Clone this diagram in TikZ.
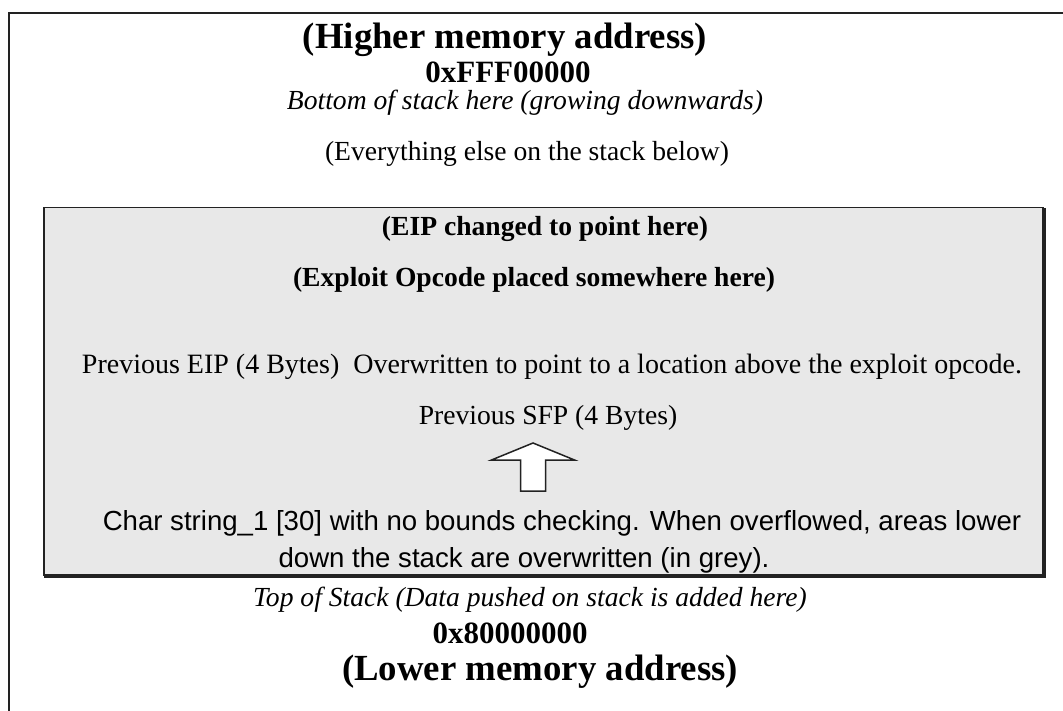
\documentclass[tikz,border=0pt]{standalone}
\usepackage{fontspec}
\setmainfont{Liberation Serif}
\newfontfamily\arialfont{Liberation Sans}
\definecolor{stackGrey}{HTML}{E8E8E8}
\definecolor{edge}{HTML}{222222}
\tikzset{
  plaintext/.style={inner sep=0pt, font=\fontsize{27.6}{33}\selectfont},
  boldtext/.style={inner sep=0pt, font=\fontsize{27.6}{33}\selectfont\bfseries},
  slanttext/.style={inner sep=0pt, font=\fontsize{27.6}{33}\selectfont\itshape},
  headtext/.style={inner sep=0pt, font=\fontsize{36.8}{42}\selectfont\bfseries},
  hextext/.style={inner sep=0pt, font=\fontsize{31}{37}\selectfont\bfseries},
  overbox/.style={
    rectangle, draw=edge, line width=1.5pt, fill=stackGrey, inner sep=0pt,
  },
  pusharrow/.style={
    draw=edge, fill=white, line width=1.5pt, line join=miter,
  },
}

\begin{document}
\begin{tikzpicture}[x=1pt,y=1pt]
\useasboundingbox (0,0) rectangle (1063,-711);

% page frame, only top and left edge
\coordinate (frameTR) at (1063,-13);
\coordinate (frameBL) at (9,-711);
\draw[edge, line width=2pt] (frameTR) -| (frameBL);

% overwritten part of the stack
\node[overbox, anchor=north west, minimum width=999pt, minimum height=367pt]
  (overflow) at (43,-207) {};
\draw[edge, line width=1.5pt]
  ([xshift=1.5pt,yshift=-1pt]overflow.north east)
  |- ([xshift=1pt,yshift=-1.5pt]overflow.south west);

\node[headtext] (higher) at (505,-40) {(Higher memory address)};
\node[hextext] (hiaddr) at (508,-72) {0xFFF00000};
\node[slanttext] (bottom) at (525,-103) {Bottom of stack here (growing downwards)};
\node[plaintext] (rest) at (527,-154) {(Everything else on the stack below)};

\node[boldtext] (eip) at (545,-229) {(EIP changed to point here)};
\node[boldtext] (opcode) at (534,-280) {(Exploit Opcode placed somewhere here)};
\node[font=\fontsize{28}{33}\selectfont, inner sep=0pt] (preveip) at (552,-367)
  {Previous EIP (4 Bytes)\ \ Overwritten to point to a location above the exploit opcode.};
\node[plaintext] (prevsfp) at (548,-418) {Previous SFP (4 Bytes)};

% hollow arrow pushing up
\coordinate (push) at (533,-443);
\draw[pusharrow] (push) -- ++(41.5,-17) -- ++(-29,0) -- ++(0,-31) -- ++(-25,0)
  -- ++(0,31) -- ++(-29,0) -- cycle;

\node[inner sep=0pt, align=center, font=\arialfont\fontsize{27.6}{37}\selectfont]
  (chars) at (524,-542)
  {\hspace*{76pt}Char string\_1 [30] with no bounds checking. When overflowed, areas lower\\
   down the stack are overwritten (in grey).};

\node[slanttext] (topstack) at (530,-600) {Top of Stack (Data pushed on stack is added here)};
\node[hextext] (loaddr) at (510,-633) {0x80000000};
\node[headtext] (lower) at (540,-672) {(Lower memory address)};

\end{tikzpicture}
\end{document}
